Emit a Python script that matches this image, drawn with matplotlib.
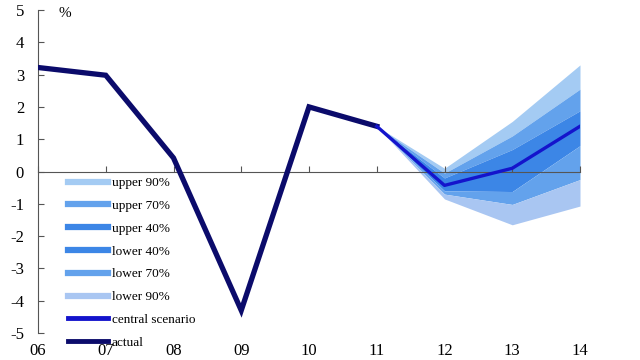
import matplotlib
matplotlib.use("Agg")
from matplotlib import pyplot as plt
from matplotlib.lines import Line2D

plt.rcParams['font.family'] = ['Liberation Serif', 'DejaVu Serif']

# actual GDP growth, %
years_actual = [6, 7, 8, 9, 10, 11]
actual = [3.22, 2.98, 0.42, -4.3, 2.0, 1.4]

# projection (11 is the anchor point)
years_proj = [11, 12, 13, 14]
central = [1.4, -0.43, 0.1, 1.4]
upper90 = [1.4, 0.1, 1.55, 3.3]
upper70 = [1.4, -0.05, 1.1, 2.55]
upper40 = [1.4, -0.2, 0.68, 1.88]
lower40 = [1.4, -0.6, -0.62, 0.8]
lower70 = [1.4, -0.7, -1.02, -0.25]
lower90 = [1.4, -0.85, -1.65, -1.07]

tick_years = [6, 7, 8, 9, 10, 11, 12, 13, 14]
tick_labels = ['06', '07', '08', '09', '10', '11', '12', '13', '14']
y_ticks = [5, 4, 3, 2, 1, 0, -1, -2, -3, -4, -5]

c_u90 = '#a4cbf3'
c_u70 = '#63a2ec'
c_u40 = '#3c86e6'
c_l40 = '#3c86e6'
c_l70 = '#63a2ec'
c_l90 = '#a9c6f2'
c_central = '#1414cc'
c_actual = '#0b0b6b'

fig = plt.figure(figsize=(6.4, 3.6), dpi=100)
ax = fig.add_axes([38/640, 1-333/360, 542/640, 323/360])

ax.fill_between(years_proj, upper70, upper90, color=c_u90, lw=0)
ax.fill_between(years_proj, upper40, upper70, color=c_u70, lw=0)
ax.fill_between(years_proj, central, upper40, color=c_u40, lw=0)
ax.fill_between(years_proj, lower40, central, color=c_l40, lw=0)
ax.fill_between(years_proj, lower70, lower40, color=c_l70, lw=0)
ax.fill_between(years_proj, lower90, lower70, color=c_l90, lw=0)

ax.plot(years_actual, actual, color=c_actual, lw=3.8, solid_joinstyle='miter', zorder=5)
ax.plot(years_proj, central, color=c_central, lw=2.4, zorder=5)

ax.set_xlim(6, 14)
ax.set_ylim(-5, 5)

for s in ['top', 'right']:
    ax.spines[s].set_visible(False)
ax.spines['left'].set_color('#555555')
ax.spines['bottom'].set_position(('data', 0))
ax.spines['bottom'].set_color('#555555')
ax.spines['bottom'].set_zorder(3)

ax.set_yticks(y_ticks)
ax.set_yticklabels([str(v) for v in y_ticks], fontsize=12)
ax.tick_params(axis='y', direction='in', length=4, color='#555555', pad=10)
ax.set_xticks(tick_years)
ax.tick_params(axis='x', direction='in', length=4, color='#555555', labelbottom=False)

sec = ax.secondary_xaxis(-0.005)
sec.set_xticks(tick_years)
sec.set_xticklabels(tick_labels, fontsize=12)
sec.tick_params(length=0, pad=6)
sec.spines['bottom'].set_visible(False)

ax.text(0.037, 0.99, '%', transform=ax.transAxes, fontsize=11, va='center')

handles = [
    Line2D([], [], color=c_u90, lw=4.5),
    Line2D([], [], color=c_u70, lw=4.5),
    Line2D([], [], color=c_u40, lw=4.5),
    Line2D([], [], color=c_l40, lw=4.5),
    Line2D([], [], color=c_l70, lw=4.5),
    Line2D([], [], color=c_l90, lw=4.5),
    Line2D([], [], color=c_central, lw=3.5),
    Line2D([], [], color=c_actual, lw=3.5),
]
names = ['upper 90%', 'upper 70%', 'upper 40%', 'lower 40%', 'lower 70%',
         'lower 90%', 'central scenario', 'actual']
ax.legend(handles, names, loc='upper left', bbox_to_anchor=(30/542, (333-177)/323),
          frameon=False, fontsize=9.5, handlelength=3.0, handletextpad=0.3,
          labelspacing=0.8, borderpad=0, borderaxespad=0)

fig.savefig('out.png', dpi=100)
